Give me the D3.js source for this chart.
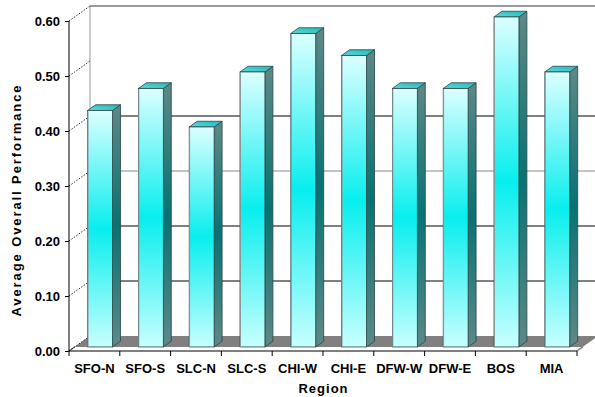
<!DOCTYPE html>
<html>
<head>
<meta charset="utf-8">
<script src="https://cdn.jsdelivr.net/npm/d3@7"></script>
<style>
  html, body { margin: 0; padding: 0; background: #ffffff; }
  svg { display: block; }
  text { font-family: "Liberation Sans", Arial, sans-serif; font-weight: bold; fill: #000; }
</style>
</head>
<body>
<svg id="chart" width="595" height="397"></svg>
<script>
// Regions and their average overall performance
const regions = ["SFO-N", "SFO-S", "SLC-N", "SLC-S", "CHI-W", "CHI-E", "DFW-W", "DFW-E", "BOS", "MIA"];
const performance = [0.43, 0.47, 0.40, 0.50, 0.57, 0.53, 0.47, 0.47, 0.60, 0.50];
const yTicks = [0, 0.1, 0.2, 0.3, 0.4, 0.5, 0.6];
const gridValues = [0.1, 0.2, 0.3, 0.4];
const gridColors = ["#000000", "#000000", "#8a8a8a", "#000000"];

(function () {
const svg = d3.select("#chart");

// Front plane of the 3D box
const plotLeft = 69, plotRight = 577, plotBottom = 351, plotTop = 21;
// Full depth of the box (toward the back wall)
const depthX = 21, depthY = -15;
const proj = (px, py, t) => [px + depthX * t, py + depthY * t];

const x = d3.scaleBand().domain(regions).range([plotLeft, plotRight]).paddingInner(0).paddingOuter(0);
const y = d3.scaleLinear().domain([0, 0.6]).range([plotBottom, plotTop]);

// Bars sit between these depth fractions
const barT0 = 0.27, barT1 = 0.65;
const barW = x.bandwidth() * 0.49;

// ----- Back wall: top edge, left edge, grid lines -----
const wall = svg.append("g");
const [bx0, byTop] = proj(plotLeft, y(0.6), 1);
wall.append("line").attr("x1", bx0).attr("x2", 600).attr("y1", byTop).attr("y2", byTop)
  .attr("stroke", "#9a9a9a").attr("stroke-width", 2);
wall.append("line").attr("x1", bx0).attr("x2", bx0).attr("y1", byTop).attr("y2", proj(plotLeft, y(0), 1)[1])
  .attr("stroke", "#9a9a9a").attr("stroke-width", 1);
wall.selectAll("line.grid").data(gridValues).join("line").attr("class", "grid")
  .attr("x1", bx0).attr("x2", 600)
  .attr("y1", d => proj(plotLeft, y(d), 1)[1]).attr("y2", d => proj(plotLeft, y(d), 1)[1])
  .attr("stroke", (d, i) => gridColors[i]).attr("stroke-width", 1);

// ----- Floor -----
const floorPts = [proj(plotLeft, plotBottom, barT0), proj(plotLeft, plotBottom, 1),
                  proj(plotRight, plotBottom, 1), proj(plotRight, plotBottom, barT0)];
svg.append("polygon").attr("points", floorPts.map(p => p.join(",")).join(" ")).attr("fill", "#808080");
[plotLeft, plotRight].forEach(px => {
  const a = proj(px, plotBottom, 0), b = proj(px, plotBottom, barT0);
  svg.append("line").attr("x1", a[0]).attr("y1", a[1]).attr("x2", b[0]).attr("y2", b[1])
    .attr("stroke", "#808080").attr("stroke-width", 1.5);
});

// ----- Side wall: dotted diagonals from the value axis to the back wall -----
svg.selectAll("line.diag").data(yTicks).join("line").attr("class", "diag")
  .attr("x1", plotLeft).attr("y1", d => y(d))
  .attr("x2", d => proj(plotLeft, y(d), 1)[0]).attr("y2", d => proj(plotLeft, y(d), 1)[1])
  .attr("stroke", "#000").attr("stroke-width", 0.8).attr("stroke-dasharray", "1.5,1.5");

// ----- Gradients -----
const defs = svg.append("defs");
const grad = (id, stops) => {
  const g = defs.append("linearGradient").attr("id", id).attr("x1", 0).attr("y1", 0).attr("x2", 0).attr("y2", 1);
  stops.forEach(([o, c]) => g.append("stop").attr("offset", o).attr("stop-color", c));
};
grad("frontGrad", [[0, "#dcffff"], [0.5, "#08eeee"], [1, "#c8ffff"]]);
grad("sideGrad", [[0, "#5f8888"], [0.5, "#087272"], [1, "#5f8888"]]);
const tg = defs.append("linearGradient").attr("id", "topGrad").attr("x1", 0).attr("y1", 1).attr("x2", 1).attr("y2", 0);
tg.append("stop").attr("offset", 0).attr("stop-color", "#5adada");
tg.append("stop").attr("offset", 1).attr("stop-color", "#22b8b8");

// ----- Bars -----
const data = regions.map((r, i) => ({ region: r, value: performance[i] }));
const bars = svg.append("g").selectAll("g").data(data).join("g");
const poly = pts => pts.map(p => p.join(",")).join(" ");
const outline = "#2b4646";

bars.each(function (d) {
  const g = d3.select(this);
  const cx = x(d.region) + x.bandwidth() / 2;
  const xl = cx - barW / 2, xr = cx + barW / 2;
  const yt = y(d.value), yb = y(0);
  const fl = proj(xl, yt, barT0), fr = proj(xr, yt, barT0);
  const flb = proj(xl, yb, barT0), frb = proj(xr, yb, barT0);
  const bl = proj(xl, yt, barT1), br = proj(xr, yt, barT1), brb = proj(xr, yb, barT1);
  // side face
  g.append("polygon").attr("points", poly([fr, br, brb, frb]))
    .attr("fill", "url(#sideGrad)").attr("stroke", outline).attr("stroke-width", 0.8);
  // top face
  g.append("polygon").attr("points", poly([fl, bl, br, fr]))
    .attr("fill", "url(#topGrad)").attr("stroke", outline).attr("stroke-width", 0.8);
  // front face
  g.append("rect").attr("x", fl[0]).attr("y", fl[1]).attr("width", barW).attr("height", flb[1] - fl[1])
    .attr("fill", "url(#frontGrad)").attr("stroke", outline).attr("stroke-width", 0.8);
  g.append("line").attr("x1", fl[0] + 0.4).attr("x2", fl[0] + 0.4).attr("y1", fl[1] + 1).attr("y2", flb[1])
    .attr("stroke", "#8a9a9a").attr("stroke-width", 1);
});

// ----- Value axis -----
const yAxis = svg.append("g").attr("transform", `translate(${plotLeft},0)`)
  .call(d3.axisLeft(y).tickValues(yTicks).tickFormat(d3.format(".2f")).tickSize(4).tickPadding(5));
yAxis.select(".domain").attr("stroke", "#000").attr("d", `M0,${y(0.6)}V${y(0)}`);
yAxis.selectAll("text").style("font-size", "13px").style("font-family", "Liberation Sans, Arial, sans-serif").style("font-weight", "bold");

// ----- Category axis -----
svg.append("line").attr("x1", plotLeft).attr("x2", plotRight).attr("y1", plotBottom).attr("y2", plotBottom)
  .attr("stroke", "#000").attr("stroke-width", 1.2);
const bounds = regions.map(r => x(r)).concat([plotRight]);
svg.selectAll("line.xtick").data(bounds).join("line").attr("class", "xtick")
  .attr("x1", d => d).attr("x2", d => d).attr("y1", plotBottom).attr("y2", plotBottom + 5)
  .attr("stroke", "#000").attr("stroke-width", 1);
svg.selectAll("text.xlabel").data(regions).join("text").attr("class", "xlabel")
  .attr("x", d => x(d) + x.bandwidth() / 2).attr("y", 373)
  .attr("text-anchor", "middle").style("font-size", "13px").text(d => d);

// ----- Axis titles -----
svg.append("text").attr("x", (plotLeft + plotRight) / 2 + 0.5).attr("y", 393).attr("text-anchor", "middle")
  .style("font-size", "13px").style("letter-spacing", "1px").text("Region");
svg.append("text").attr("transform", "translate(21,200) rotate(-90)").attr("text-anchor", "middle")
  .style("font-size", "13px").style("letter-spacing", "1.9px").text("Average Overall Performance");
})();
</script>
</body>
</html>
